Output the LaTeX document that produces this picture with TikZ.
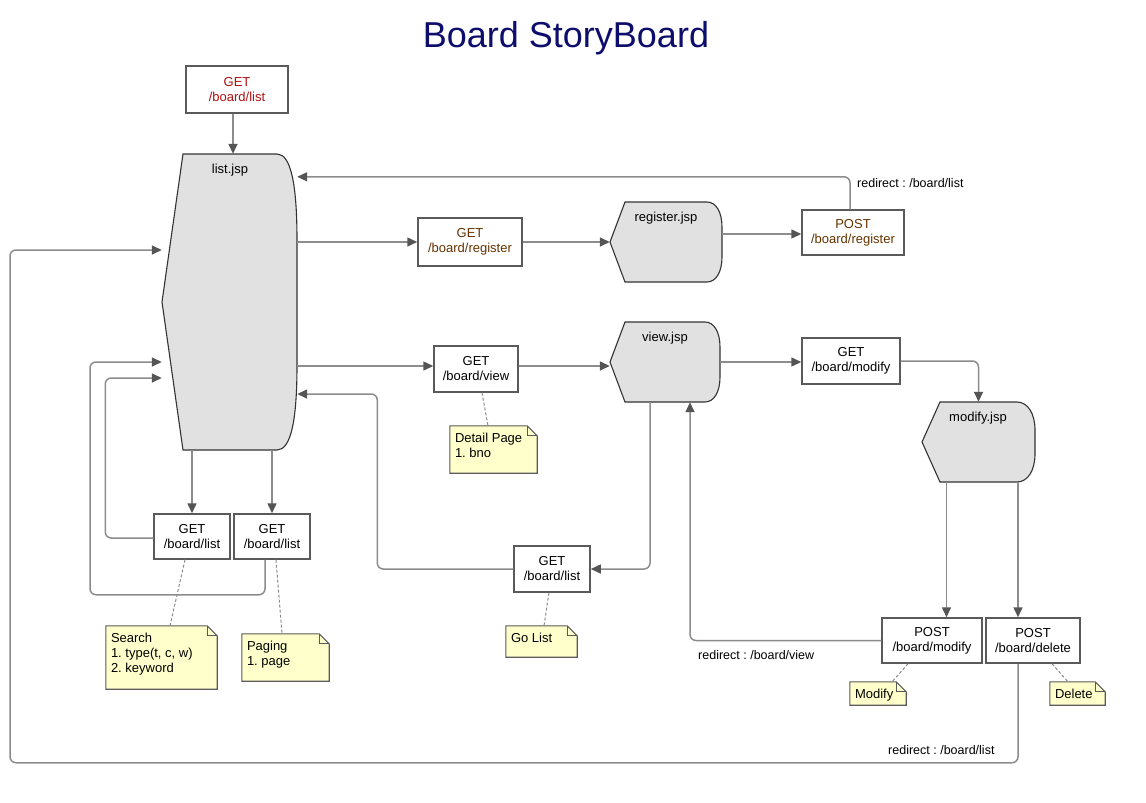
\documentclass[tikz,border=0pt]{standalone}
\usepackage{fontspec}
\setmainfont{Liberation Sans}
\usetikzlibrary{arrows.meta,calc}
\definecolor{linec}{RGB}{140,140,140}
\definecolor{tipc}{RGB}{85,85,85}
\definecolor{boxc}{RGB}{90,90,90}
\definecolor{shapefill}{RGB}{225,225,225}
\definecolor{notefill}{RGB}{255,255,204}
\definecolor{titlec}{RGB}{13,13,107}
\definecolor{redt}{RGB}{176,16,16}
\definecolor{brownt}{RGB}{102,51,0}
\frenchspacing
\newcommand\drawnote[2]{%
  \filldraw[notestyle] (#1.north west) -- ([xshift=-10pt]#1.north east) -- ([yshift=-10pt]#1.north east) -- (#1.south east) -- (#1.south west) -- cycle;
  \draw[notestyle,fill=none] ([xshift=-10pt]#1.north east) |- ([yshift=-10pt]#1.north east);
  \node[notetext] at ([xshift=5pt,yshift=-7pt]#1.north west) {#2};
}
\begin{document}
\begin{tikzpicture}[x=1pt,y=-1pt,
 box/.style={draw=boxc, line width=1.5pt, fill=white, inner sep=0pt, align=center, font=\fontsize{13}{15}\selectfont},
 conn/.style={draw=linec, line width=1.5pt, rounded corners=6pt, -{Triangle[length=10pt,width=9pt,color=tipc,fill=tipc]}},
 jsp/.style={draw=black!80, line width=1.1pt, fill=shapefill},
 area/.style={inner sep=0pt, draw=none},
 jsplabel/.style={font=\fontsize{13}{15}\selectfont, inner sep=0pt},
 notestyle/.style={draw=boxc, line width=1.1pt, fill=notefill},
 notetext/.style={inner sep=0pt, align=left, anchor=north west, font=\fontsize{13}{15}\selectfont},
 dashc/.style={draw=linec, line width=1pt, dash pattern=on 3pt off 2pt},
 lbl/.style={font=\fontsize{12.5}{14}\selectfont, anchor=west, inner sep=0pt},
]
\fill[white] (0,0) rectangle (1146,803);
\useasboundingbox (0,0) rectangle (1146,803);

\node[font=\fontsize{36}{40}\selectfont, text=titlec] (title) at (566,38) {Board StoryBoard};

% jsp shapes
\path[jsp] (183,154) -- (277,154) .. controls (291,154) and (297,185) .. (297,240) -- (297,365) .. controls (297,420) and (291,450) .. (277,450) -- (183,450) -- (162,302) -- cycle;
\node[area, minimum width=135, minimum height=296] (list) at (229.5,302) {};
\node[jsplabel] (listlbl) at (230,170) {list.jsp};

\path[jsp] (625,202) -- (707,202) .. controls (716,202) and (722,212) .. (722,227) -- (722,257) .. controls (722,272) and (716,282) .. (707,282) -- (625,282) -- (610,242) -- cycle;
\node[area, minimum width=112, minimum height=80] (regjsp) at (666,242) {};
\node[jsplabel] (reglbl) at (666,218) {register.jsp};

\path[jsp] (625,322) -- (705,322) .. controls (714,322) and (720,332) .. (720,347) -- (720,377) .. controls (720,392) and (714,402) .. (705,402) -- (625,402) -- (610,362) -- cycle;
\node[area, minimum width=110, minimum height=80] (viewjsp) at (665,362) {};
\node[jsplabel] (viewlbl) at (665,338) {view.jsp};

\path[jsp] (940,402) -- (1017,402) .. controls (1028,402) and (1035,414) .. (1035,430) -- (1035,454) .. controls (1035,470) and (1028,482) .. (1017,482) -- (940,482) -- (922,442) -- cycle;
\node[area, minimum width=113, minimum height=80] (modjsp) at (978.5,442) {};
\node[jsplabel] (modlbl) at (978,418) {modify.jsp};

% boxes
\node[box, text=redt, minimum width=102, minimum height=47] (start) at (237,89.5) {GET\\/board/list};
\node[box, text=brownt, minimum width=104, minimum height=48] (greg) at (470,242) {GET\\/board/register};
\node[box, text=brownt, minimum width=102, minimum height=45] (preg) at (853,232.5) {POST\\/board/register};
\node[box, minimum width=84, minimum height=46] (gview) at (476,369) {GET\\/board/view};
\node[box, minimum width=98, minimum height=46] (gmod) at (851,361) {GET\\/board/modify};
\node[box, minimum width=76, minimum height=45] (search) at (192,536.5) {GET\\/board/list};
\node[box, minimum width=76, minimum height=45] (paging) at (272,536.5) {GET\\/board/list};
\node[box, minimum width=76, minimum height=46] (golist) at (552,569) {GET\\/board/list};
\node[box, minimum width=100, minimum height=45] (pmod) at (932,640.5) {POST\\/board/modify};
\node[box, minimum width=94, minimum height=45] (pdel) at (1033,640.5) {POST\\/board/delete};

% notes
\node[area, minimum width=87, minimum height=47] (n1) at (493.5,449.5) {};
\drawnote{n1}{Detail Page\\1. bno}
\node[area, minimum width=111, minimum height=63] (nsearch) at (161.5,657.5) {};
\drawnote{nsearch}{Search\\1. type(t, c, w)\\2. keyword}
\node[area, minimum width=87, minimum height=47] (npaging) at (285.5,657.5) {};
\drawnote{npaging}{Paging\\1. page}
\node[area, minimum width=71, minimum height=31] (ngo) at (541.5,641.5) {};
\drawnote{ngo}{Go List}
\node[area, minimum width=56, minimum height=23] (nmod) at (878,693.5) {};
\drawnote{nmod}{Modify}
\node[area, minimum width=55, minimum height=23] (ndel) at (1077.5,693.5) {};
\drawnote{ndel}{Delete}

% dashed note links
\draw[dashc] ([xshift=6pt]gview.south) -- ([xshift=-5.5pt]n1.north);
\draw[dashc] ([xshift=-7pt]search.south) -- ([xshift=8.5pt]nsearch.north);
\draw[dashc] ([xshift=4pt]paging.south) -- ([xshift=-3.5pt]npaging.north);
\draw[dashc] ([xshift=-3pt]golist.south) -- ([xshift=2.5pt]ngo.north);
\draw[dashc] ([xshift=-24pt]pmod.south) -- ([xshift=14pt]nmod.north);
\draw[dashc] ([xshift=19pt]pdel.south) -- ([xshift=-9.5pt]ndel.north);

% connectors
\draw[conn] ([xshift=-4pt]start.south) -- ([xshift=-4pt]start.south |- list.north);
\draw[conn] (greg.west -| list.east) -- (greg.west);
\draw[conn] (greg.east) -- (regjsp.west);
\draw[conn] ([yshift=-1.5pt]preg.west -| regjsp.east) -- ([yshift=-1.5pt]preg.west);
\draw[conn] ([xshift=-3pt]preg.north) |- ([yshift=-23pt]list.north east);
\node[lbl] (lblreg) at (857,183) {redirect : /board/list};
\draw[conn] ([yshift=3pt]gview.west -| list.east) -- ([yshift=3pt]gview.west);
\draw[conn] ([yshift=3pt]gview.east) -- ([yshift=3pt]gview.east -| viewjsp.west);
\draw[conn] (viewjsp.east) -- (viewjsp.east -| gmod.west);
\draw[conn] (gmod.east) -| (modjsp.north);
\draw[conn] (search.north |- list.south) -- (search.north);
\draw[conn] (paging.north |- list.south) -- (paging.north);
\draw[conn] ([yshift=-1.5pt]search.west) -- ++(-48,0) |- ([yshift=-76pt]list.west);
\draw[conn] ([xshift=-7pt]paging.south) -- ++(0,35) -- ++(-175,0) |- ([yshift=-60pt]list.west);
\draw[conn] ([xshift=-15pt]viewjsp.south) |- (golist.east);
\draw[conn] (golist.west) -- ++(-136,0) |- ([yshift=-92pt]list.east);
\draw[conn] ([xshift=-32pt]modjsp.south) -- ([xshift=-32pt]modjsp.south |- pmod.north);
\draw[conn] ([xshift=39.5pt]modjsp.south) -- ([xshift=39.5pt]modjsp.south |- pdel.north);
\draw[conn] (pmod.west) -| ([xshift=25pt]viewjsp.south);
\node[lbl] (lblview) at (698,655) {redirect : /board/view};
\draw[conn] ([xshift=-15pt]pdel.south) -- ++(0,99) -- ++(-1008,0) |- ([yshift=52pt]list.west);
\node[lbl] (lbllist) at (888,750) {redirect : /board/list};
\end{tikzpicture}
\end{document}
